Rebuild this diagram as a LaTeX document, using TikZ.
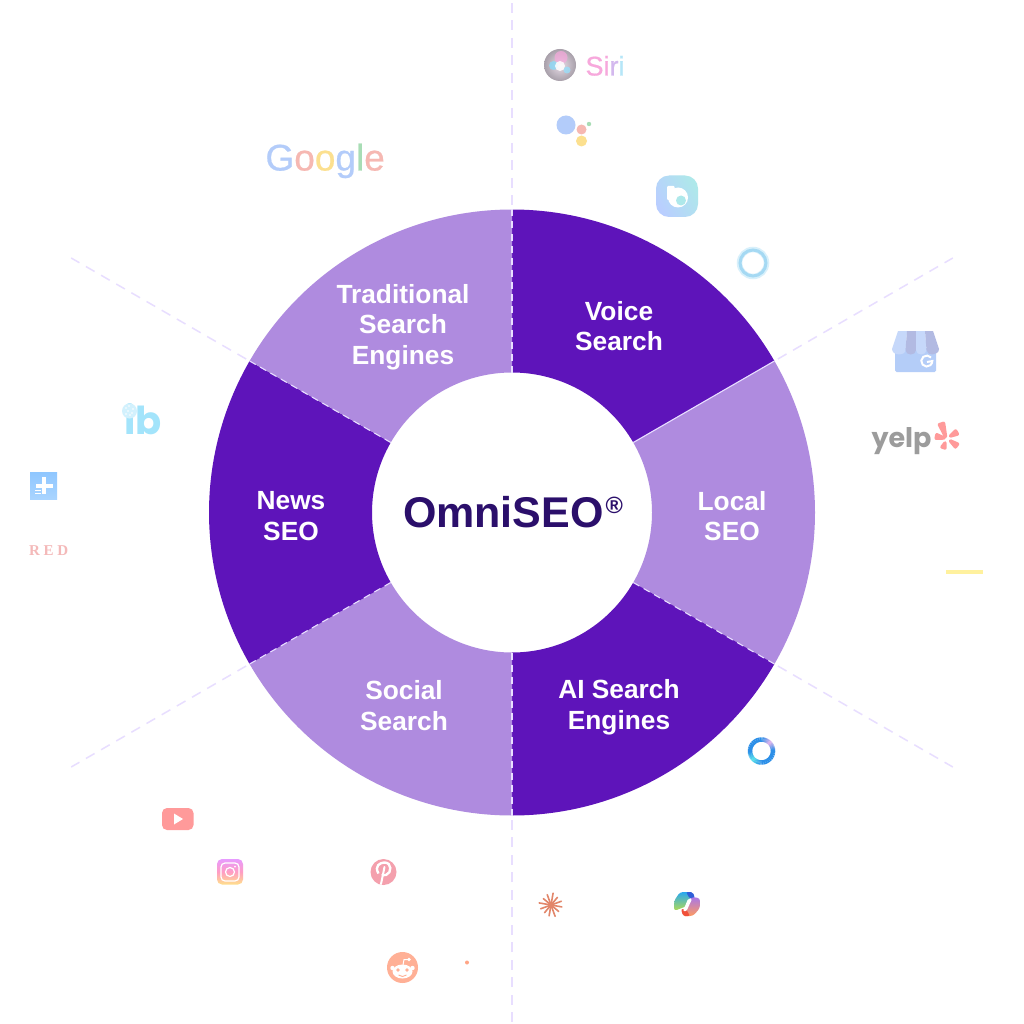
\documentclass[tikz,border=0pt]{standalone}
\usepackage{fontspec}
\usetikzlibrary{calc}
\setmainfont{Liberation Sans}
\newfontfamily\popf{Poppins}
\newfontfamily\serf{Liberation Serif}
\newfontfamily\heavyf[FakeBold=0.6]{Liberation Sans}
\definecolor{wdark}{HTML}{5E14BA}
\definecolor{wlight}{HTML}{AF8BDF}
\definecolor{dashc}{HTML}{E8DEFF}
\definecolor{ink}{HTML}{2B0F6B}
\definecolor{gblue}{HTML}{B3CCFA}
\definecolor{gred}{HTML}{F6B8B2}
\definecolor{gyel}{HTML}{FCE08F}
\definecolor{ggreen}{HTML}{A8DDB5}
\definecolor{ypink}{HTML}{FF9A9A}
\definecolor{siriP}{HTML}{F7A8DC}
\definecolor{siriL}{HTML}{D3B8EE}
\definecolor{siriB}{HTML}{B5E6F8}
\definecolor{siriin}{HTML}{E8DDE8}
\definecolor{siriout}{HTML}{A8A0AA}
\definecolor{ibc}{HTML}{A3E4FB}
\definecolor{ttl}{HTML}{AEE8EA}
\definecolor{bixb}{HTML}{B9CEFF}
\definecolor{ringa}{HTML}{D8F0FB}
\definecolor{ringb}{HTML}{A5D9F3}
\definecolor{gmbbody}{HTML}{B4CDF8}
\definecolor{gmbl}{HTML}{C6D8FA}
\definecolor{gmbd}{HTML}{B2BAE2}
\definecolor{yelpg}{HTML}{9C9C9C}
\definecolor{yellowbar}{HTML}{FFF19E}
\definecolor{ibg}{HTML}{D2F1FD}
\definecolor{sqa}{HTML}{8FC7FF}
\definecolor{sqb}{HTML}{A9D4FF}
\definecolor{redc}{HTML}{F4B9B9}
\definecolor{iga}{HTML}{E79BFF}
\definecolor{igb}{HTML}{FFE08A}
\definecolor{igc}{HTML}{FF9CC4}
\definecolor{pinc}{HTML}{F4A0AD}
\definecolor{redd}{HTML}{FFB096}
\definecolor{dotc}{HTML}{FFA586}
\definecolor{cora}{HTML}{2C8FE8}
\definecolor{corb}{HTML}{55DCEB}
\definecolor{corc}{HTML}{D9B2EC}
\definecolor{cla}{HTML}{E2866A}
\definecolor{cpa}{HTML}{28A8F0}
\definecolor{cpb}{HTML}{B5DC50}
\definecolor{cpc}{HTML}{A878E8}
\definecolor{cpd}{HTML}{FF9A60}
\definecolor{cpe}{HTML}{2F5FD8}
\definecolor{cpf}{HTML}{F0503A}
\tikzset{
  seclabel/.style={text=white,font=\bfseries\fontsize{26.3}{30.5}\selectfont,align=center,inner sep=0pt},
  spoke/.style={dashc,line width=1.5pt,dash pattern=on 10pt off 7.5pt,dash phase=.5pt},
  inspoke/.style={dashc,line width=1.1pt,dash pattern=on 7pt off 5pt},
  logo/.style={inner sep=0pt,outer sep=0pt,anchor=base west}
}
\begin{document}
\begin{tikzpicture}[x=1pt,y=1pt,yscale=-1]
\useasboundingbox (0,0) rectangle (1024,1024);
\fill[white] (0,0) rectangle (1024,1024);
\coordinate (c) at (512,512.5);
% outer spokes
\foreach \n/\a in {a/-90,b/-30,d/30,e/90,f/150,g/210}{
  \coordinate (in\n) at ($(c)+(\a:303)$);
  \coordinate (out\n) at ($(c)+(\a:509)$);
  \draw[spoke] (out\n) -- (in\n);
}
% wheel
\foreach \s/\e/\col in {-90/-30/wdark,-30/30/wlight,30/90/wdark,90/150/wlight,150/210/wdark,210/270/wlight}{
  \fill[\col] ($(c)+(\s:303)$) arc (\s:\e:303) -- ($(c)+(\e:140)$) arc (\e:\s:140) -- cycle;
}
\foreach \n/\a in {a/-90,d/30,e/90,f/150,g/210}{
  \coordinate (hub\n) at ($(c)+(\a:140)$);
  \coordinate (rim\n) at ($(c)+(\a:303)$);
  \draw[inspoke] (hub\n) -- (rim\n);
}
\coordinate (hubb) at ($(c)+(-30:140)$);
\draw[dashc,line width=1.1pt] (hubb) -- (inb);
% labels
\node[seclabel] (trad) at (403,327) {Traditional\\Search\\Engines};
\node[seclabel] (voice) at (619,326) {Voice\\Search};
\node[seclabel] (local) at (732,516) {Local\\SEO};
\node[seclabel] (ai) at (619,707) {AI Search\\Engines};
\node[seclabel] (social) at (404,705.5) {Social\\Search};
\node[seclabel] (news) at (291,516) {News\\SEO};
\node[logo,text=ink,font=\bfseries\fontsize{43}{43}\selectfont] (omni) at (403,527.5) {OmniSEO\kern2pt\raisebox{14pt}{\fontsize{23.5}{24}\selectfont ®}};
% Siri
\shade[inner color=siriin,outer color=siriout] (560,65) circle (16);
\fill[siriP,opacity=.7] (561,57.5) circle (6.5);
\fill[cyan!45,opacity=.8] (553.5,65.5) circle (4.5);
\fill[cyan!40,opacity=.8] (567,70) circle (3.5);
\fill[white,opacity=.85] (560,66) circle (5);
\node[logo,font=\heavyf\fontsize{27}{27}\selectfont] (siri) at (585.5,75.5) {\textcolor{siriP}{Si}\textcolor{siriL}{r}\textcolor{siriB}{i}};
% Assistant
\fill[gblue] (566,125) circle (9.5);
\fill[gred] (581.5,129.5) circle (5);
\fill[gyel] (581.5,141) circle (5.5);
\fill[ggreen] (589,124) circle (2.2);
% Bixby
\shade[rounded corners=13pt,left color=bixb,right color=ttl,shading angle=120] (656,175.5) rectangle (698,217);
\fill[white] (678,197.5) circle (10);
\fill[white,rounded corners=1pt] (667,186) rectangle (674.5,200);
\fill[ttl] (681,200.5) circle (5);
% Ring
\draw[line width=5.5pt,ringa] (753,263) circle (13.5);
\draw[line width=3pt,ringb] (753,263) circle (13);
% GMB
\fill[gmbbody,rounded corners=1.5pt] (895,348) rectangle (936,372);
\fill[gmbl] (898,331) -- (907,331) -- (905.5,350) .. controls (905.5,356) and (892,356) .. (892,349) -- cycle;
\fill[gmbd] (907,331) -- (916,331) -- (916,350) .. controls (916,356) and (905.5,356) .. (905.5,350) -- cycle;
\fill[gmbl] (916,331) -- (925,331) -- (926.5,350) .. controls (926.5,356) and (916,356) .. (916,350) -- cycle;
\fill[gmbd] (925,331) -- (933,331) -- (939,349) .. controls (939,356) and (926.5,356) .. (926.5,350) -- cycle;
\draw[white,line width=2pt] (931,357.5) arc (-40:-360:5.5) -- (927,362);
% yelp
\node[logo,text=yelpg,font=\popf\bfseries\fontsize{27}{27}\selectfont] (yelp) at (871.5,447.5) {yelp};
\foreach \xa/\ya/\xb/\yb/\w in {945.5/436.5/941.5/424/2.2,950.5/436/956.5/432.5/1.8,950.5/441/956.5/445.5/1.8,945/443/943.5/447.5/1.6,944/438/936.5/436.5/1.8}{
  \coordinate (pa) at (\xa,\ya);
  \coordinate (pb) at (\xb,\yb);
  \filldraw[ypink,line width=3.4pt,line join=round] (pa) -- ($(pb)!\w pt!90:(pa)$) -- ($(pb)!\w pt!-90:(pa)$) -- cycle;
}
% yellow bar
\fill[yellowbar] (946,570) rectangle (983,574);
% ib
\node[logo,text=ibc,font=\popf\bfseries\fontsize{38.5}{40}\selectfont] (ib) at (124.5,434) {ib};
\fill[ibg] (129.5,411) circle (7.5);
\foreach \x/\y in {126/408,129/406,133/409,128/411,132/413,126/414,130/415}{\fill[white] (\x,\y) circle (.8);}
% news square
\shade[top color=sqa,bottom color=sqb] (30,472) rectangle (57,499);
\fill[white] (42,477) rectangle (45.5,494);
\fill[white] (36,484) rectangle (53,487.5);
\fill[white] (35,489.5) rectangle (41,491);
\fill[white] (35,492.5) rectangle (41,494);
% RED
\node[logo,text=redc,font=\serf\bfseries\fontsize{15}{15}\selectfont] (red) at (29,555.5) {R\kern3.8pt E\kern3.8pt D};
% YouTube
\fill[ypink,rounded corners=5pt] (162,808) rectangle (193.5,830);
\fill[white] (174,813.5) -- (183,819) -- (174,824.5) -- cycle;
% Instagram
\shade[rounded corners=5pt,top color=iga,bottom color=igb,middle color=igc] (217,859) rectangle (243,884.5);
\draw[white,line width=1.2pt,rounded corners=4pt] (221,863) rectangle (239,881);
\draw[white,line width=1.2pt] (230,872) circle (4.5);
\fill[white] (235,866.5) circle (1);
% Pinterest
\fill[pinc] (383.5,872) circle (13);
\draw[white,line width=2pt,line cap=round] (381,884) -- (384.5,867);
\draw[white,line width=2.4pt] (378.5,873.5) .. controls (374,866) and (380,862.5) .. (384.5,862.5) .. controls (392,862.5) and (392,873) .. (386,875) .. controls (384,875.5) and (382.5,875) .. (382,874);
% Reddit
\fill[redd] (402.5,967.5) circle (15.5);
\fill[white] (402.5,971.5) ellipse (10 and 7);
\fill[white] (392.5,968) circle (2.2);
\fill[white] (412.5,968) circle (2.2);
\fill[redd] (398,970) circle (1.8);
\fill[redd] (407,970) circle (1.8);
\draw[redd,line width=.9pt] (398.5,975) .. controls (401,977) and (404,977) .. (406.5,975);
\draw[white,line width=1pt] (403,965) -- (404,959.5) -- (408,959.5);
\fill[white] (409,959.5) circle (1.8);
% dot
\fill[dotc] (467,962.5) circle (2);
% Cortana ring
\coordinate (cor) at (761.5,751);
\foreach \s/\d/\ca/\cb in {-90/45/cora/corc,-45/45/corc/cora,0/90/cora/cora,90/45/cora/corb,135/45/corb/cora,180/90/cora/cora}{
  \foreach \t in {0,...,8}{
    \pgfmathsetmacro\aa{\s+\t*\d/9}
    \pgfmathsetmacro\bb{\s+(\t+1)*\d/9+.6}
    \pgfmathsetmacro\pp{100-\t*12.5}
    \draw[line width=4.5pt,color={\ca!\pp!\cb}] ($(cor)+(\aa:11.5)$) arc (\aa:\bb:11.5);
  }
}
% Claude star
\foreach \a/\r in {10/11,40/10,70/12,100/11,130/10,160/11,190/12,220/10,250/11,280/12,310/10,340/11}{
  \coordinate (tip) at ($(551,905)+(\a:\r)$);
  \draw[cla,line width=1.6pt,line cap=round] (551,905) -- (tip);
}
\fill[cla] (551,905) circle (3);
% Copilot
\shade[rounded corners=3pt,top color=cpa,bottom color=cpb] (680,892) -- (692,892) -- (687,906) -- (674,911) -- (674,901) -- cycle;
\fill[cpe,rounded corners=2pt] (686,892) -- (693,892) -- (695,899) -- (690,899) -- cycle;
\shade[rounded corners=3pt,top color=cpc,bottom color=cpd] (700,898) -- (700,908) -- (693,916) -- (682,916) -- (686,906) -- (691,897) -- cycle;
\fill[cpf,rounded corners=2pt] (681,909) -- (686,909) -- (690,916) -- (683,916) -- cycle;
\fill[white,rounded corners=1pt] (688,899) -- (692,899) -- (686.5,911) -- (683,911) -- cycle;
% Google
\node[logo,font=\heavyf\fontsize{37}{37}\selectfont] (google) at (265.5,170.5) {\textcolor{gblue}{G}\textcolor{gred}{o}\textcolor{gyel}{o}\textcolor{gblue}{g}\textcolor{ggreen}{l}\textcolor{gred}{e}};
\end{tikzpicture}
\end{document}
